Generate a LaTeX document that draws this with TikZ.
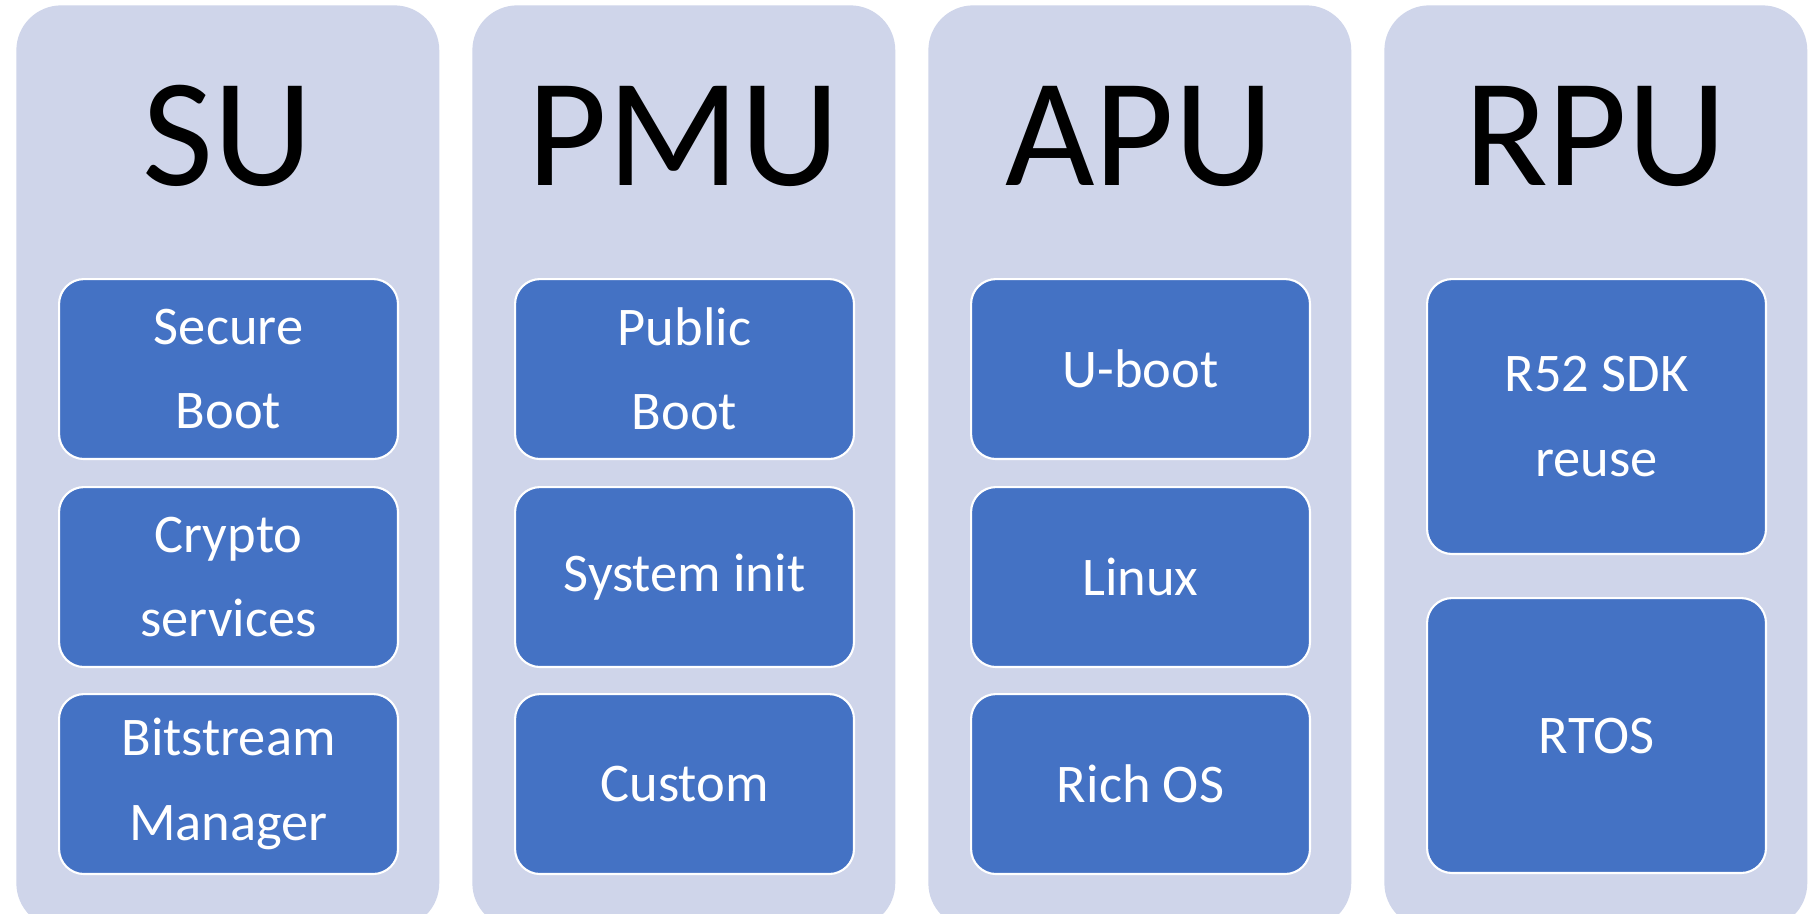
\documentclass[tikz,border=0pt]{standalone}
\usepackage{fontspec}
\setmainfont{Carlito}
\usetikzlibrary{positioning}

\begin{document}
\begin{tikzpicture}[x=0.02cm, y=-0.02cm]
    % Colori
    \definecolor{panelbg}{RGB}{207,213,234}
    \definecolor{boxblue}{RGB}{68,114,196}
    \tikzset{
      panel/.style={fill=panelbg, rounded corners=0.9cm, minimum width=8.46cm, minimum height=18.46cm, anchor=north west, inner sep=0pt},
      unit/.style={font=\fontsize{88}{88}\selectfont, anchor=base},
      taskbox/.style={draw=white, line width=1.2pt, fill=boxblue, rounded corners=0.5cm, text=white, align=center, minimum width=6.78cm, minimum height=3.6cm, anchor=north west, font=\fontsize{31}{48}\selectfont},
      tallbox/.style={taskbox, minimum height=5.5cm},
    }

    % Sfondo e ritaglio
    \fill[white] (0,0) rectangle (1814,913);
    \clip (0,0) rectangle (1814,913);

    % Colonne
    \node[panel] (su)  at (16,5) {};
    \node[panel] (pmu) at (472,5) {};
    \node[panel] (apu) at (928,5) {};
    \node[panel] (rpu) at (1384,5) {};

    % Titoli
    \node[unit] (sutitle)  at (227.5,185) {SU};
    \node[unit] (pmutitle) at (683.5,185) {PMU};
    \node[unit] (aputitle) at (1139.5,185) {APU};
    \node[unit] (rputitle) at (1595.5,185) {RPU};

    % SU
    \node[taskbox] (secure) at (58,278) {Secure\\Boot};
    \node[taskbox] (crypto) at (58,486) {Crypto\\services};
    \node[taskbox] (bitstream) at (58,693) {Bitstream\\Manager};

    % PMU
    \node[taskbox] (public) at (514,278) {Public\\Boot};
    \node[taskbox] (sysinit) at (514,486) {System init};
    \node[taskbox] (custom) at (514,693) {Custom};

    % APU
    \node[taskbox] (uboot) at (970,278) {U-boot};
    \node[taskbox] (linux) at (970,486) {Linux};
    \node[taskbox] (richos) at (970,693) {Rich OS};

    % RPU
    \node[tallbox] (sdk) at (1426,278) {R52 SDK\\reuse};
    \node[tallbox] (rtos) at (1426,597) {RTOS};
\end{tikzpicture}
\end{document}
